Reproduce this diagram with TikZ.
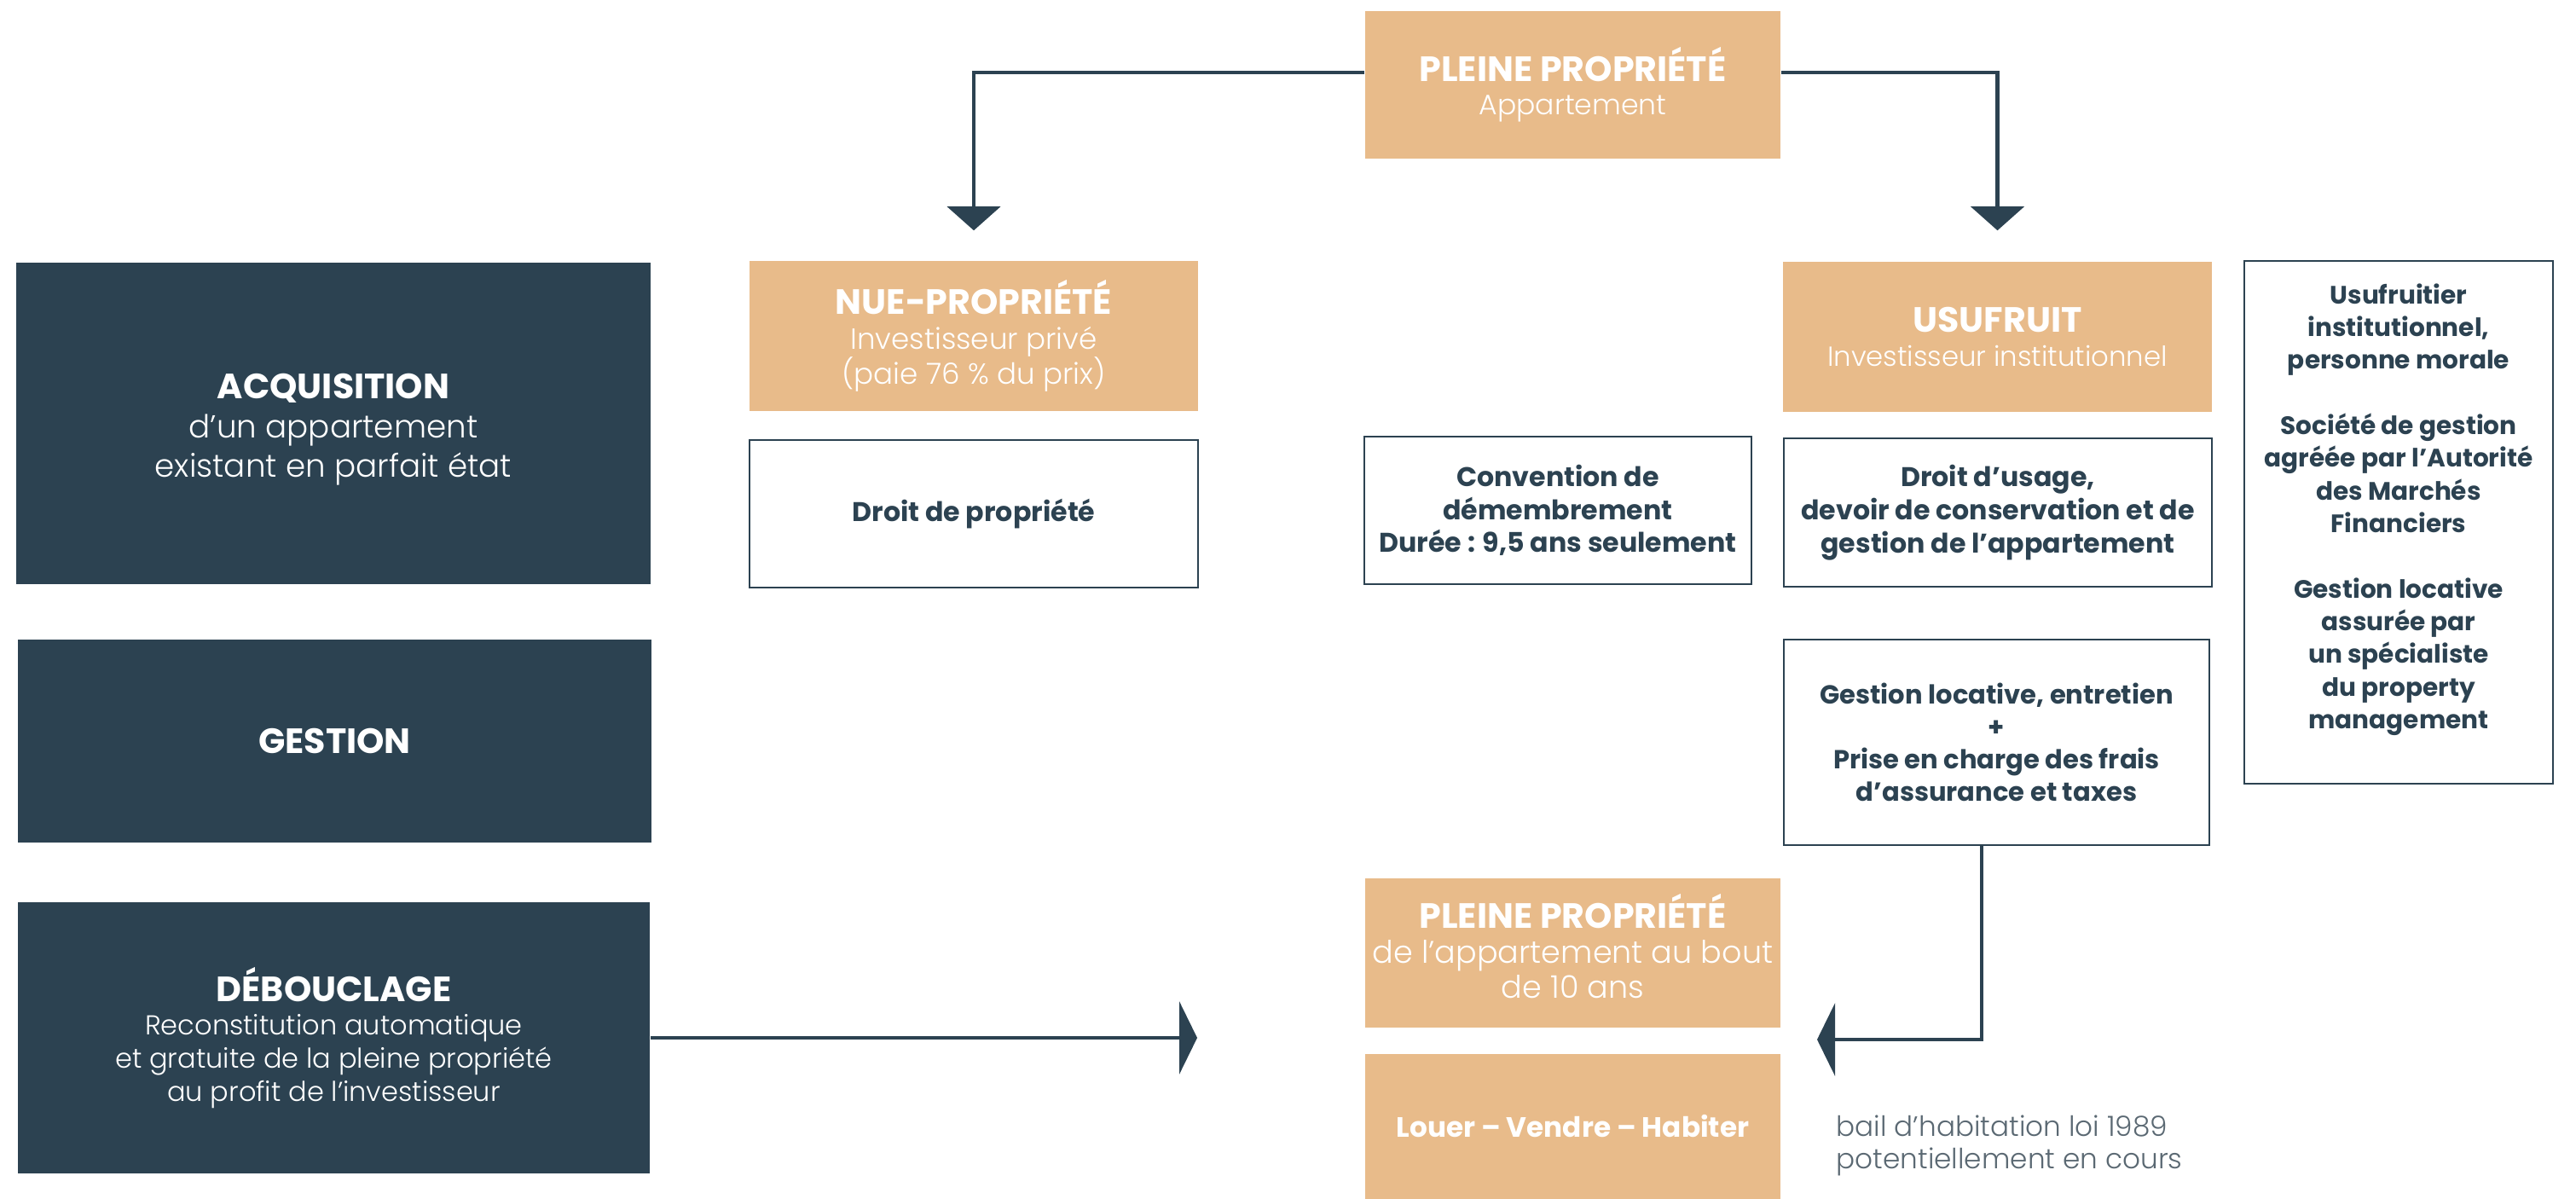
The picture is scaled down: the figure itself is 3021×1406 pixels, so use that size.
\documentclass[tikz,border=0pt]{standalone}
\usepackage{fontspec}
\setmainfont{Poppins}
\newfontfamily\lightf{Poppins Light}
\usetikzlibrary{arrows.meta}
\definecolor{navy}{HTML}{2C4251}
\definecolor{tan}{HTML}{E8BB8A}
\definecolor{grayt}{HTML}{5A6872}
\newcommand{\hd}[1]{{\fontsize{11.7}{13}\selectfont\bfseries #1}}
\newcommand{\lt}[2]{{\lightf\fontsize{#1}{13}\selectfont #2}}
\begin{document}
\begin{tikzpicture}[x=0.01cm,y=-0.01cm,
  darkbox/.style={fill=navy, text=white, align=center, inner sep=0pt, font=\fontsize{11}{13}\selectfont},
  tanbox/.style={fill=tan, text=white, align=center, inner sep=0pt, font=\fontsize{11}{11.6}\selectfont},
  wbox/.style={draw=navy, line width=0.7pt, fill=white, text=navy, align=center, inner sep=0pt, font=\fontsize{9}{11}\selectfont\bfseries},
  conn/.style={draw=navy, line width=1.3pt},
  downtip/.style={-{Triangle[width=0.62cm,length=0.28cm]}},
  sidetip/.style={-{Triangle[width=0.85cm,length=0.21cm]}}]
\useasboundingbox (0,0) rectangle (3021,1406);

\node[tanbox, minimum width=4.87cm, minimum height=1.73cm] (top) at (1844.5,99.5)
  {\hd{PLEINE PROPRIÉTÉ}\\[-0.5pt]\lt{9.4}{Appartement}};

\node[darkbox, minimum width=7.44cm, minimum height=3.77cm] (acq) at (391,496.5)
  {\rule{0pt}{12.4pt}\hd{ACQUISITION}\\\lt{10.6}{d’un appartement}\\\lt{10.6}{existant en parfait état}};
\node[darkbox, minimum width=7.43cm, minimum height=2.38cm] (ges) at (392.5,869)
  {\hd{GESTION}};
\node[darkbox, minimum width=7.41cm, minimum height=3.18cm, font=\fontsize{11}{11.1}\selectfont] (deb) at (391.5,1217)
  {\hd{DÉBOUCLAGE}\\\lt{9.1}{Reconstitution automatique}\\\lt{9.1}{et gratuite de la pleine propriété}\\\lt{9.1}{au profit de l’investisseur}};

\node[tanbox, minimum width=5.26cm, minimum height=1.76cm] (nue) at (1142,394)
  {\hd{NUE-PROPRIÉTÉ}\\\lt{9.7}{Investisseur privé}\\\lt{9.7}{(paie 76 \% du prix)}};
\node[wbox, minimum width=5.26cm, minimum height=1.73cm] (dp) at (1142,602.5)
  {Droit de propriété};

\node[tanbox, minimum width=5.03cm, minimum height=1.76cm] (usu) at (2342.5,395)
  {\hd{USUFRUIT}\\\lt{9.2}{Investisseur institutionnel}};
\node[wbox, minimum width=4.54cm, minimum height=1.73cm] (conv) at (1827,598.5)
  {Convention de\\démembrement\\Durée : 9,5 ans seulement};
\node[wbox, minimum width=5.02cm, minimum height=1.74cm] (du) at (2343,601)
  {Droit d’usage,\\devoir de conservation et de\\gestion de l’appartement};
\node[wbox, minimum width=3.62cm, minimum height=6.13cm] (info) at (2813,612.5) {};
\node[align=center, inner sep=0pt, text=navy, font=\fontsize{8.4}{10.9}\selectfont\bfseries] (infotext) at ([yshift=0.15cm]info.center)
  {Usufruitier\\institutionnel,\\personne morale\\[10.9pt]Société de gestion\\agréée par l’Autorité\\des Marchés\\Financiers\\[10.9pt]Gestion locative\\assurée par\\un spécialiste\\du property\\management};
\node[wbox, minimum width=4.99cm, minimum height=2.41cm, font=\fontsize{8.7}{10.8}\selectfont\bfseries] (gl) at (2341.5,870.5)
  {Gestion locative, entretien\\+\\Prise en charge des frais\\d’assurance et taxes};

\node[tanbox, minimum width=4.87cm, minimum height=1.75cm] (pp2) at (1844.5,1117.5)
  {\hd{PLEINE PROPRIÉTÉ}\\\lt{10.4}{de l’appartement au bout}\\\lt{10.4}{de 10 ans}\rule[-4.6pt]{0pt}{1pt}};
\node[tanbox, minimum width=4.87cm, minimum height=1.70cm] (louer) at (1844.5,1321)
  {{\fontsize{9.3}{11}\selectfont\bfseries Louer – Vendre – Habiter}};
\node[anchor=west, align=left, inner sep=0pt, text=grayt, font=\fontsize{9.3}{10.8}\lightf] (bail) at (2153,1343)
  {bail d’habitation loi 1989\\potentiellement en cours};

\coordinate (tipL) at ([yshift=0.35cm]nue.north);
\coordinate (tipR) at ([yshift=0.36cm]usu.north);
\coordinate (tipA) at (1404,1217);
\coordinate (tipB) at (2131,1219);
\draw[conn, downtip] ([yshift=0.145cm]top.west) -| (tipL);
\draw[conn, downtip] ([yshift=0.145cm]top.east) -| (tipR);
\draw[conn, sidetip] (deb.east) -- (tipA);
\draw[conn, sidetip] ([xshift=-0.175cm]gl.south) |- (tipB);
\end{tikzpicture}
\end{document}
